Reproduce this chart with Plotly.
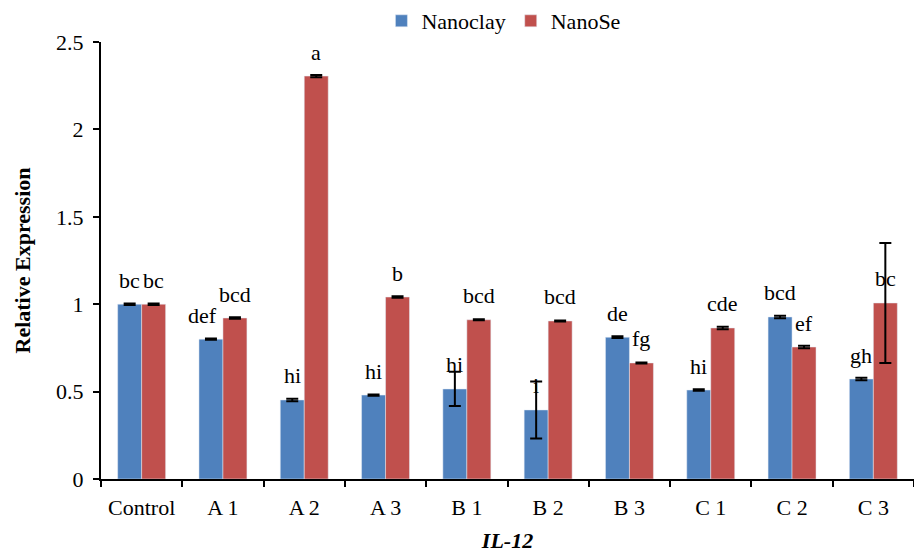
import plotly.graph_objects as go

categories = ["Control", "A 1", "A 2", "A 3", "B 1", "B 2", "B 3", "C 1", "C 2", "C 3"]
nanoclay = [1.00, 0.80, 0.452, 0.48, 0.515, 0.395, 0.811, 0.509, 0.927, 0.572]
nanoclay_err = [0.004, 0.004, 0.007, 0.004, 0.098, 0.163, 0.005, 0.004, 0.007, 0.007]
nanose = [1.00, 0.921, 2.305, 1.041, 0.911, 0.904, 0.664, 0.864, 0.755, 1.007]
nanose_err = [0.004, 0.004, 0.006, 0.004, 0.003, 0.003, 0.003, 0.007, 0.007, 0.343]
nanoclay_letters = ["bc", "def", "hi", "hi", "hi", "i", "de", "hi", "bcd", "gh"]
nanose_letters = ["bc", "bcd", "a", "b", "bcd", "bcd", "fg", "cde", "ef", "bc"]

BLUE = "#4F81BD"
RED = "#C0504D"
FONT = "Liberation Serif, Times New Roman, Times, serif"

fig = go.Figure()
fig.add_trace(go.Bar(
    x=categories, y=nanoclay, name="Nanoclay", marker_color=BLUE,
    error_y=dict(type="data", array=nanoclay_err, color="black", thickness=2, width=6),
))
fig.add_trace(go.Bar(
    x=categories, y=nanose, name="NanoSe", marker_color=RED,
    error_y=dict(type="data", array=nanose_err, color="black", thickness=2, width=6),
))

extra_shift = {("Nanoclay", "A 1"): -8}
annotations = []
for name, vals, letters, side in [("Nanoclay", nanoclay, nanoclay_letters, -1),
                                  ("NanoSe", nanose, nanose_letters, 1)]:
    for c, v, t in zip(categories, vals, letters):
        annotations.append(dict(
            x=c, y=v, text=t, showarrow=False, xref="x", yref="y",
            xanchor="center", yanchor="middle",
            xshift=side * 12 + extra_shift.get((name, c), 0), yshift=24,
            font=dict(family=FONT, size=22, color="black"),
        ))

fig.update_layout(
    width=914, height=553,
    margin=dict(l=101, r=0, t=42, b=74, autoexpand=False),
    paper_bgcolor="white", plot_bgcolor="white",
    barmode="group", bargap=0.41, bargroupgap=0,
    font=dict(family=FONT, size=22, color="black"),
    showlegend=True,
    legend=dict(orientation="h", x=0.495, xref="paper", xanchor="center",
                y=1.0, yref="container", yanchor="top",
                font=dict(family=FONT, size=22), itemwidth=30,
                bgcolor="rgba(0,0,0,0)"),
    annotations=annotations,
)
fig.update_xaxes(
    type="category", showline=True, linecolor="black", linewidth=2,
    ticks="outside", tickson="boundaries", ticklen=6, tickwidth=2, tickcolor="black",
    showgrid=False, zeroline=False, automargin=False, ticklabelstandoff=8,
    tickfont=dict(family=FONT, size=22),
    title=dict(text="<b><i>IL-12</i></b>", font=dict(family=FONT, size=22), standoff=14),
)
fig.update_yaxes(
    range=[0, 2.5], dtick=0.5, showline=True, linecolor="black", linewidth=2,
    ticks="outside", ticklen=6, tickwidth=2, tickcolor="black",
    showgrid=False, zeroline=False, ticklabelstandoff=5, automargin=False,
    tickfont=dict(family=FONT, size=22),
    title=dict(text="<b>Relative Expression</b>", font=dict(family=FONT, size=22), standoff=19),
)
fig.write_html("out.html")
